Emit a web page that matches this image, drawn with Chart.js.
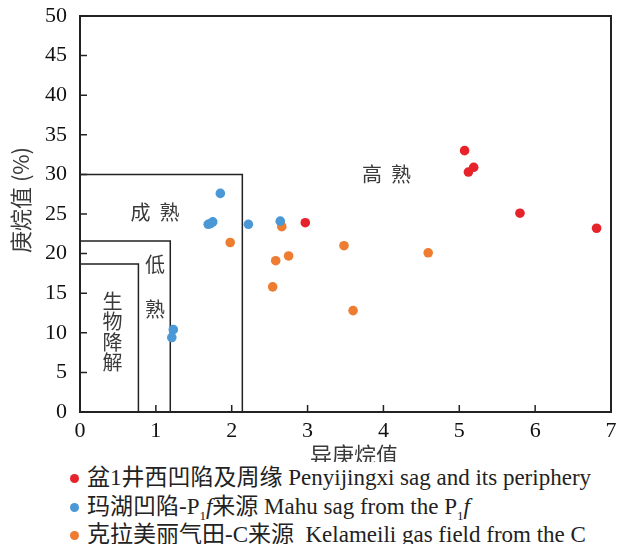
<!DOCTYPE html>
<html>
<head>
<meta charset="utf-8">
<script src="https://cdn.jsdelivr.net/npm/chart.js@4.4.0/dist/chart.umd.min.js"></script>
<style>
  body { margin: 0; background: #fff; }
  #wrap { position: relative; width: 619px; height: 544px; overflow: hidden; }
  #legend { position: absolute; left: 70px; top: 464px; font-family: "Liberation Serif", "Noto Sans CJK SC", serif; font-size: 23px; color: #222; }
  #legend div { height: 28.5px; line-height: 28.5px; white-space: nowrap; }
  #legend span.dot { display: inline-block; width: 9px; height: 9px; border-radius: 50%; margin-right: 8px; vertical-align: 2px; }
  #legend sub { font-size: 13px; }
</style>
</head>
<body>
<div id="wrap">
  <canvas id="chart" width="619" height="462"></canvas>
  <div id="legend"></div>
</div>
<script>
// series (异庚烷值, 庚烷值 %)
const penyiX = [2.97, 5.07, 5.19, 5.12, 5.80, 6.81];
const penyiY = [23.9, 33.0, 30.9, 30.3, 25.1, 23.2];
const mahuX = [1.85, 1.69, 1.75, 1.72, 2.22, 2.64, 1.23, 1.21];
const mahuY = [27.6, 23.7, 24.0, 23.8, 23.7, 24.1, 10.4, 9.4];
const kelaX = [1.98, 2.66, 2.58, 2.75, 2.54, 3.48, 4.59, 3.60];
const kelaY = [21.4, 23.4, 19.1, 19.7, 15.8, 21.0, 20.1, 12.8];

// maturity zone boundaries
const zoneX = [0.77, 1.19, 2.14];
const zoneY = [18.7, 21.6, 30];

const xTicks = [0, 1, 2, 3, 4, 5, 6, 7];
const yTicks = [0, 5, 10, 15, 20, 25, 30, 35, 40, 45, 50];

const colors = ['#e6222a', '#4a98d6', '#ee7c31'];
const legendLabels = [
  '盆1井西凹陷及周缘 Penyijingxi sag and its periphery',
  '玛湖凹陷-P<sub>1</sub><i>f</i>来源 Mahu sag from the P<sub>1</sub><i>f</i>',
  '克拉美丽气田-C来源&nbsp; Kelameili gas field from the C'
];

function pts(xs, ys) { return xs.map((x, i) => ({ x: x, y: ys[i] })); }

const tickFont = "22px 'Liberation Serif', serif";
const cjk = "'Noto Sans CJK SC', sans-serif";

document.getElementById('legend').innerHTML = legendLabels.map((t, i) =>
  `<div><span class="dot" style="background:${colors[i]}"></span>${t}</div>`).join('');

const overlay = {
  id: 'overlay',
  beforeDatasetsDraw(chart) {
    const ctx = chart.ctx, xs = chart.scales.x, ys = chart.scales.y;
    ctx.save();
    ctx.strokeStyle = '#222';
    ctx.lineWidth = 1.5;
    zoneX.forEach((zx, i) => {
      ctx.beginPath();
      ctx.moveTo(xs.getPixelForValue(0), ys.getPixelForValue(zoneY[i]));
      ctx.lineTo(xs.getPixelForValue(zx), ys.getPixelForValue(zoneY[i]));
      ctx.lineTo(xs.getPixelForValue(zx), ys.getPixelForValue(0));
      ctx.stroke();
    });
    // zone names
    ctx.fillStyle = '#3a3a3a';
    ctx.font = '20px ' + cjk;
    ctx.textAlign = 'center';
    ctx.textBaseline = 'middle';
    const txt = (s, x, y) => ctx.fillText(s, xs.getPixelForValue(x), ys.getPixelForValue(y));
    txt('高  熟', 4.04, 30.0);
    txt('成  熟', 0.99, 25.2);
    txt('低', 0.99, 18.6);
    txt('熟', 0.99, 12.9);
    ['生', '物', '降', '解'].forEach((c, i) => txt(c, 0.43, 13.95 - i * 2.56));
    ctx.restore();
  },
  afterDatasetsDraw(chart) {
    const ctx = chart.ctx, a = chart.chartArea, xs = chart.scales.x, ys = chart.scales.y;
    ctx.save();
    ctx.strokeStyle = '#222';
    ctx.lineWidth = 2;
    ctx.strokeRect(a.left, a.top, a.right - a.left, a.bottom - a.top);
    ctx.lineWidth = 1.5;
    ctx.beginPath();
    xTicks.forEach(v => {
      const p = xs.getPixelForValue(v);
      ctx.moveTo(p, a.bottom); ctx.lineTo(p, a.bottom - 7);
    });
    yTicks.forEach(v => {
      const p = ys.getPixelForValue(v);
      ctx.moveTo(a.left, p); ctx.lineTo(a.left + 7, p);
    });
    ctx.stroke();
    // tick labels
    ctx.fillStyle = '#111';
    ctx.font = tickFont;
    ctx.textBaseline = 'middle';
    ctx.textAlign = 'center';
    xTicks.forEach(v => ctx.fillText(String(v), xs.getPixelForValue(v), a.bottom + 19));
    ctx.textAlign = 'right';
    yTicks.forEach(v => ctx.fillText(String(v), a.left - 13, ys.getPixelForValue(v)));
    // axis titles
    ctx.fillStyle = '#3a3a3a';
    ctx.font = '22px ' + cjk;
    ctx.textAlign = 'center';
    ctx.fillText('异庚烷值', 354, 455);
    ctx.translate(21, 200);
    ctx.rotate(-Math.PI / 2);
    ctx.fillText('庚烷值 (%)', 0, 0);
    ctx.restore();
  }
};

const chart = new Chart(document.getElementById('chart'), {
  type: 'scatter',
  data: {
    datasets: [
      { label: 'Penyijingxi', data: pts(penyiX, penyiY), backgroundColor: colors[0], borderWidth: 0, pointRadius: 4.8 },
      { label: 'Mahu', data: pts(mahuX, mahuY), backgroundColor: colors[1], borderWidth: 0, pointRadius: 4.8 },
      { label: 'Kelameili', data: pts(kelaX, kelaY), backgroundColor: colors[2], borderWidth: 0, pointRadius: 4.8 }
    ]
  },
  options: {
    responsive: false,
    animation: false,
    layout: { padding: { top: 16, right: 8, left: 0, bottom: 0 } },
    plugins: { legend: { display: false }, tooltip: { enabled: false } },
    scales: {
      x: {
        type: 'linear', min: 0, max: 7,
        afterBuildTicks: s => { s.ticks = xTicks.map(v => ({ value: v })); },
        afterFit: s => { s.height = 50; s.paddingLeft = 0; s.paddingRight = 0; },
        grid: { display: false, drawTicks: false },
        border: { display: false },
        ticks: { display: false }
      },
      y: {
        type: 'linear', min: 0, max: 50,
        afterBuildTicks: s => { s.ticks = yTicks.map(v => ({ value: v })); },
        afterFit: s => { s.width = 80; s.paddingTop = 0; s.paddingBottom = 0; },
        grid: { display: false, drawTicks: false },
        border: { display: false },
        ticks: { display: false }
      }
    }
  },
  plugins: [overlay]
});
</script>
</body>
</html>
